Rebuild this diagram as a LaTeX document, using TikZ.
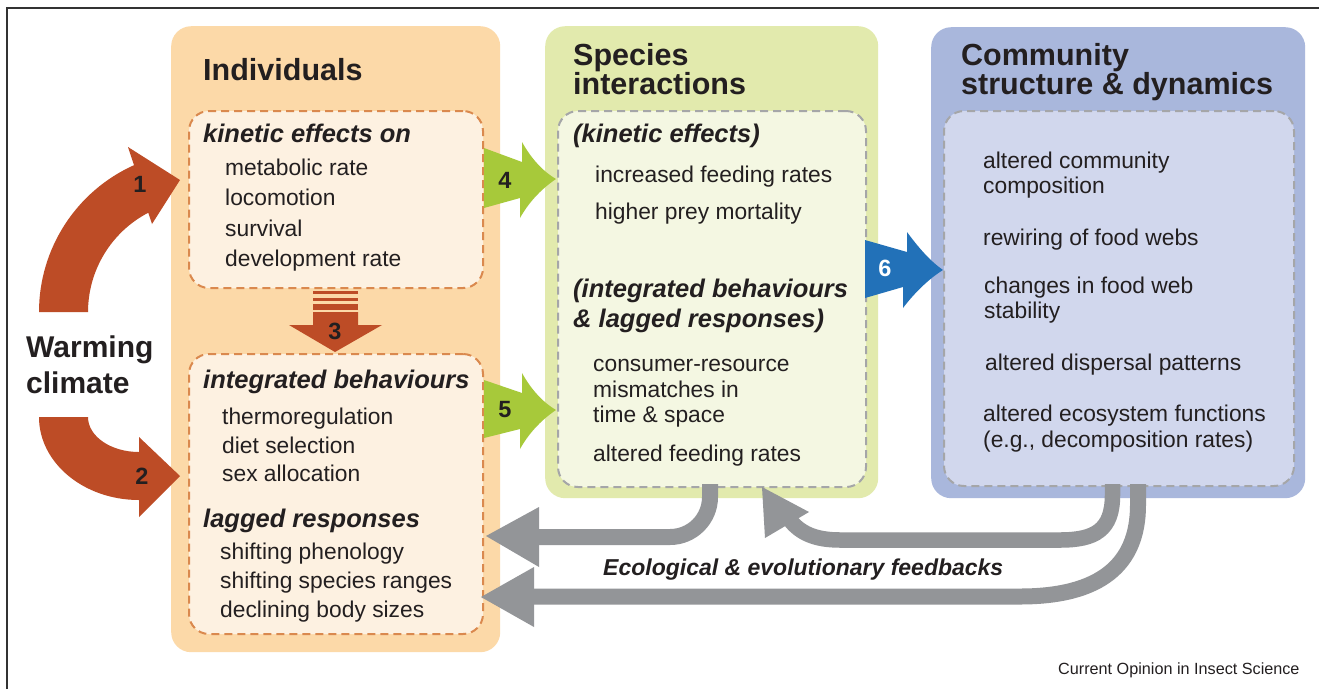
\documentclass[tikz,border=0pt]{standalone}
\usepackage{fontspec}
\setmainfont{Liberation Sans}
\usetikzlibrary{calc}
\definecolor{ink}{RGB}{35,31,32}
\definecolor{orpanel}{RGB}{252,217,168}
\definecolor{orbox}{RGB}{253,241,225}
\definecolor{ordash}{RGB}{218,137,78}
\definecolor{grpanel}{RGB}{226,234,173}
\definecolor{grbox}{RGB}{244,247,226}
\definecolor{blpanel}{RGB}{169,183,220}
\definecolor{blbox}{RGB}{209,215,237}
\definecolor{boxdash}{RGB}{165,166,168}
\definecolor{rust}{RGB}{189,76,38}
\definecolor{leaf}{RGB}{167,201,58}
\definecolor{sea}{RGB}{34,113,184}
\definecolor{fbgray}{RGB}{147,149,152}
\definecolor{framecol}{RGB}{50,50,50}
\begin{document}
\begin{tikzpicture}[x=1pt,y=1pt,yscale=-1,
  panel/.style={rectangle, draw=none, rounded corners=20pt, inner sep=0pt, anchor=north west},
  dbox/.style={rectangle, rounded corners=20pt, inner sep=0pt, anchor=north west, line width=2pt, dash pattern=on 8pt off 5pt},
  txt/.style={anchor=base west, inner sep=0pt, text=ink, font=\fontsize{22.8}{25}\selectfont},
  sub/.style={txt, font=\fontsize{25.5}{28}\selectfont\bfseries\itshape},
  ttl/.style={txt, font=\fontsize{30.5}{33}\selectfont\bfseries},
  num/.style={inner sep=0pt, text=ink, font=\fontsize{23.5}{24}\selectfont\bfseries},
  fbshaft/.style={draw=fbgray, line width=16pt},
]
\useasboundingbox (0,0) rectangle (1319,689);
\fill[white] (0,0) rectangle (1319,689);

% frame
\draw[framecol, line width=1.5pt] (7,689) -- (7,8) -- (1319,8);

% panels
\node[panel, fill=orpanel, minimum width=329pt, minimum height=626pt] (ind) at (171,26) {};
\node[panel, fill=grpanel, minimum width=333pt, minimum height=472pt] (spc) at (545,26) {};
\node[panel, fill=blpanel, minimum width=374pt, minimum height=471pt] (com) at (931,27) {};

\node[dbox, fill=orbox, draw=ordash, minimum width=294pt, minimum height=177pt] (kin) at (188,110) {};
\node[dbox, fill=orbox, draw=ordash, minimum width=294pt, minimum height=280pt] (intg) at (188,353) {};
\node[dbox, fill=grbox, draw=boxdash, minimum width=308pt, minimum height=376pt] (spcin) at (557,110) {};
\node[dbox, fill=blbox, draw=boxdash, minimum width=350pt, minimum height=375pt] (comin) at (943,110) {};

% titles
\node[ttl] (tind) at (203,80) {Individuals};
\node[ttl] (tspc1) at (573,65) {Species};
\node[ttl] (tspc2) at (573,94) {interactions};
\node[ttl] (tcom1) at (961,65) {Community};
\node[ttl] (tcom2) at (961,94) {structure \& dynamics};
\node[ttl, font=\fontsize{30}{33}\selectfont\bfseries] (warm1) at (26,357) {Warming};
\node[ttl, font=\fontsize{30}{33}\selectfont\bfseries] (warm2) at (26,393) {climate};

% individuals
\node[sub] (k0) at (203,142) {kinetic effects on};
\node[txt] (k1) at (225,175) {metabolic rate};
\node[txt] (k2) at (225,205.5) {locomotion};
\node[txt] (k3) at (225,236.5) {survival};
\node[txt] (k4) at (225,266.5) {development rate};
\node[sub] (i0) at (203,388) {integrated behaviours};
\node[txt] (i1) at (222,424) {thermoregulation};
\node[txt] (i2) at (222,453) {diet selection};
\node[txt] (i3) at (222,481) {sex allocation};
\node[sub] (l0) at (203,527) {lagged responses};
\node[txt] (l1) at (220,559) {shifting phenology};
\node[txt] (l2) at (220,588) {shifting species ranges};
\node[txt] (l3) at (220,617) {declining body sizes};

% species interactions
\node[sub] (s0) at (573,142) {(kinetic effects)};
\node[txt] (s1) at (595,182) {increased feeding rates};
\node[txt] (s2) at (595,219) {higher prey mortality};
\node[sub] (s3) at (573,297) {(integrated behaviours};
\node[sub] (s4) at (573,327) {\& lagged responses)};
\node[txt] (s5) at (593,371) {consumer-resource};
\node[txt] (s6) at (593,397) {mismatches in};
\node[txt] (s7) at (593,422) {time \& space};
\node[txt] (s8) at (593,461) {altered feeding rates};

% community
\node[txt] (c1) at (983,168) {altered community};
\node[txt] (c2) at (983,193) {composition};
\node[txt] (c3) at (983,245) {rewiring of food webs};
\node[txt] (c4) at (984,293) {changes in food web};
\node[txt] (c5) at (984,318) {stability};
\node[txt] (c6) at (985,370) {altered dispersal patterns};
\node[txt] (c7) at (983,421) {altered ecosystem functions};
\node[txt] (c8) at (983,447) {(e.g., decomposition rates)};

% arrow 1: warming to kinetic effects
\fill[rust] (39,312) arc[start angle=180, end angle=245.8, radius=161]
  -- (128,147) -- (180,180) -- (152,224) -- (148.3,212.7)
  arc[start angle=242.5, end angle=180, radius=112] -- cycle;
\node[num] (n1) at (140,184.5) {1};

% arrow 2: warming to integrated behaviours
\fill[rust] (39,417) arc[start angle=180, end angle=90, x radius=100, y radius=83]
  -- (139,517) -- (180,476) -- (139,437) -- (139,452)
  arc[start angle=90, end angle=180, x radius=51, y radius=35] -- cycle;
\node[num] (n2) at (142,476) {2};

% arrow 3: kinetic effects to integrated behaviours
\fill[rust] (313,291) rectangle (358,293.5);
\fill[rust] (313,297.5) rectangle (358,301);
\fill[rust] (313,303.5) rectangle (358,310);
\fill[rust] (313,312) -- (358,312) -- (358,325) -- (382,325) -- (335,352) -- (289,325) -- (313,325) -- cycle;
\node[num] (n3) at (335,331) {3};

% arrows 4 and 5: individuals to species interactions
\fill[leaf] (484,148) -- (522,162) -- (522,142) .. controls (532,160) and (544,172) .. (556,179)
  .. controls (544,187) and (530,200) .. (520,218) -- (520,198) -- (484,208) -- cycle;
\node[num] (n4) at (505,180) {4};
\fill[leaf] (484,380) -- (522,393) -- (522,373) .. controls (532,391) and (544,403) .. (556,410)
  .. controls (544,418) and (530,431) .. (520,449) -- (520,429) -- (484,438) -- cycle;
\node[num] (n5) at (505,410) {5};

% arrow 6: species interactions to community
\fill[sea] (865,240) -- (907,252) -- (907,232) .. controls (918,247) and (930,261) .. (943,270)
  .. controls (930,278) and (915,292) .. (903,308) -- (903,287) -- (865,298) -- cycle;
\node[num, text=white] (n6) at (885,268) {6};

% feedback arrows
\coordinate (fa0) at (710,484);
\coordinate (fa1) at (710,537);
\coordinate (fa2) at (536,537);
\draw[fbshaft, rounded corners=40pt] (fa0) -- (fa1) -- (fa2);
\fill[fbgray] (539,507) -- (486,536) -- (539,567) -- cycle;

\coordinate (fb0) at (1112.5,484);
\coordinate (fb1) at (790,520);
\draw[fbshaft, line width=15.5pt] (fb0) -- (1112.5,495) .. controls (1112.5,530) and (1095,540) .. (1060,540)
  -- (840,540) .. controls (815,540) and (800,533) .. (fb1);
\fill[fbgray] (809,512) -- (762,487) -- (765,538) -- cycle;

\coordinate (fc0) at (1138,484);
\coordinate (fc1) at (532,596.5);
\draw[fbshaft] (fc0) -- (1138,505) .. controls (1138,565) and (1100,596.5) .. (1020,596.5) -- (fc1);
\fill[fbgray] (534,567) -- (481,597) -- (534,627) -- cycle;

\node[txt, font=\fontsize{23}{25}\selectfont\bfseries\itshape] (fbl) at (603,575) {Ecological \& evolutionary feedbacks};
\node[txt, font=\fontsize{16.2}{18}\selectfont] (src) at (1058,674) {Current Opinion in Insect Science};
\end{tikzpicture}
\end{document}
